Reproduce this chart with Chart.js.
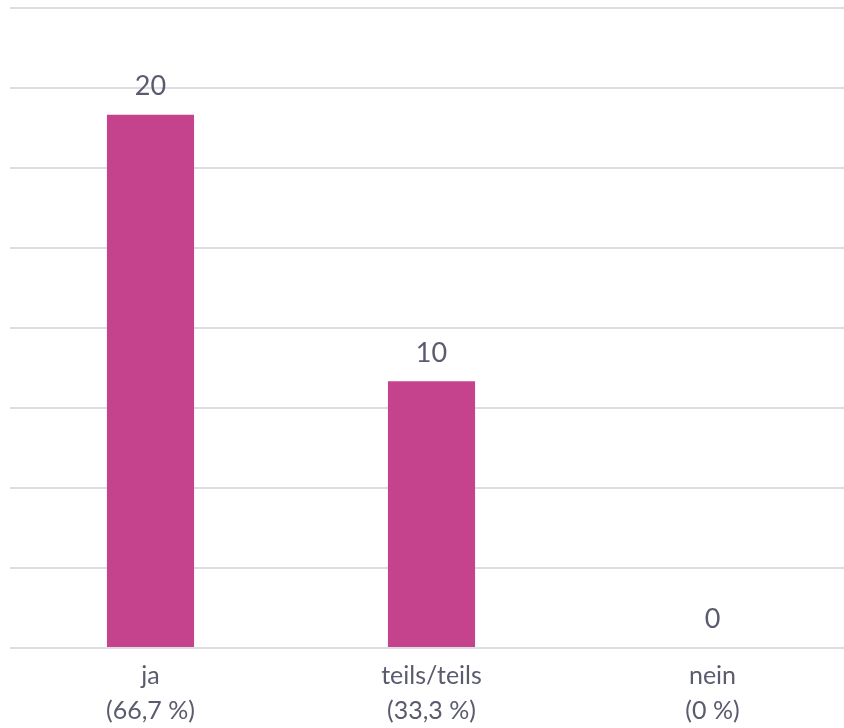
<!DOCTYPE html>
<html lang="de">
<head>
    <meta charset="UTF-8">
    <title>Antworten</title>
    <script src="https://cdn.jsdelivr.net/npm/chart.js"></script>
    <style>
        html, body {
            margin: 0;
            padding: 0;
            background: #ffffff;
            overflow: hidden;
        }
        .chart-box {
            width: 853px;
            height: 728px;
        }
    </style>
</head>
<body>
    <div class="chart-box">
        <canvas id="chart"></canvas>
    </div>

    <script>
        // Data
        const categories = [["ja", "(66,7 %)"], ["teils/teils", "(33,3 %)"], ["nein", "(0 %)"]];
        const counts = [20, 10, 0];
        const yMax = 24;
        const yStep = 3;

        const textColor = "#5b5b6f";
        const barColor = "#c5428d";
        const fontFamily = "Lato, 'Open Sans', sans-serif";

        // Value labels above each bar
        const valueLabels = {
            id: "valueLabels",
            afterDatasetsDraw(chart) {
                const ctx = chart.ctx;
                const meta = chart.getDatasetMeta(0);
                ctx.save();
                ctx.fillStyle = textColor;
                ctx.font = "27px " + fontFamily;
                ctx.textAlign = "center";
                ctx.textBaseline = "bottom";
                meta.data.forEach((bar, i) => {
                    ctx.fillText(String(counts[i]), bar.x, bar.y - 15);
                });
                ctx.restore();
            }
        };

        new Chart(document.getElementById("chart"), {
            type: "bar",
            data: {
                labels: categories,
                datasets: [{
                    data: counts,
                    backgroundColor: barColor,
                    barPercentage: 1,
                    categoryPercentage: 0.31
                }]
            },
            options: {
                responsive: true,
                maintainAspectRatio: false,
                animation: false,
                layout: { padding: { left: 10, top: 8, right: 0, bottom: 0 } },
                plugins: {
                    legend: { display: false },
                    tooltip: { enabled: false }
                },
                scales: {
                    x: {
                        grid: { display: false },
                        border: { display: false },
                        afterFit: (scale) => { scale.height = 80; },
                        ticks: {
                            color: textColor,
                            font: { family: fontFamily, size: 25, lineHeight: 1.4 },
                            padding: 2,
                            maxRotation: 0
                        }
                    },
                    y: {
                        min: 0,
                        max: yMax,
                        ticks: { display: false, stepSize: yStep },
                        grid: { color: "#dedde3", lineWidth: 2, drawTicks: false },
                        border: { display: false }
                    }
                }
            },
            plugins: [valueLabels]
        });
    </script>
</body>
</html>
